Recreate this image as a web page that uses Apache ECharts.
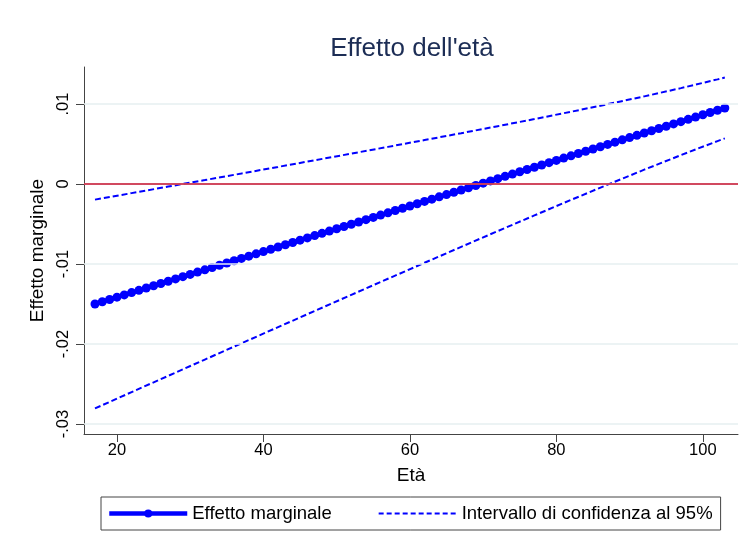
<!DOCTYPE html>
<html>
<head>
<meta charset="utf-8">
<script src="https://cdn.jsdelivr.net/npm/echarts@6/dist/echarts.min.js"></script>
<style>html,body{margin:0;padding:0;background:#fff}#c{width:747px;height:545px}</style>
</head>
<body>
<div id="c"></div>
<script>
// Ages (one point per year) and marginal effect
var ages = [17,18,19,20,21,22,23,24,25,26,27,28,29,30,31,32,33,34,35,36,37,38,39,40,41,42,43,44,45,46,47,48,49,50,51,52,53,54,55,56,57,58,59,60,61,62,63,64,65,66,67,68,69,70,71,72,73,74,75,76,77,78,79,80,81,82,83,84,85,86,87,88,89,90,91,92,93,94,95,96,97,98,99,100,101,102,103];
var marginalEffect = [-0.01500,-0.014715,-0.01443,-0.014145,-0.01386,-0.013575,-0.01329,-0.013005,-0.01272,-0.012435,-0.01215,-0.011865,-0.01158,-0.011295,-0.01101,-0.010725,-0.01044,-0.010155,-0.00987,-0.009585,-0.0093,-0.009015,-0.00873,-0.008445,-0.00816,-0.007875,-0.00759,-0.007305,-0.00702,-0.006735,-0.00645,-0.006165,-0.00588,-0.005595,-0.00531,-0.005025,-0.00474,-0.004455,-0.00417,-0.003885,-0.0036,-0.003315,-0.00303,-0.002745,-0.00246,-0.002175,-0.00189,-0.001605,-0.00132,-0.001035,-0.00075,-0.000465,-0.00018,0.000105,0.00039,0.000675,0.00096,0.001245,0.00153,0.001815,0.0021,0.002385,0.00267,0.002955,0.00324,0.003525,0.00381,0.004095,0.00438,0.004665,0.00495,0.005235,0.00552,0.005805,0.00609,0.006375,0.00666,0.006945,0.00723,0.007515,0.0078,0.008085,0.00837,0.008655,0.00894,0.009225,0.00951];
// Confidence interval (95%)
var ciAges = [17,22,27,32,37,42,47,52,57,62,67,72,77,82,87,92,97,102,103];
var ciUpper = [-0.00195,-0.001138,-0.000319,0.000494,0.001314,0.002139,0.002968,0.003803,0.004645,0.005496,0.006357,0.007232,0.008123,0.009036,0.009978,0.010958,0.011987,0.013081,0.01331];
var ciLower = [-0.02805,-0.026012,-0.023981,-0.021944,-0.019914,-0.017889,-0.015868,-0.013853,-0.011845,-0.009846,-0.007857,-0.005882,-0.003923,-0.001986,-0.000078,0.001792,0.003613,0.005369,0.00571];
// Ticks
var xTicks = [20,40,60,80,100];
var yTicks = [-0.03,-0.02,-0.01,0,0.01];
var yTickLabels = ['-.03','-.02','-.01','0','.01'];

function pairs(xs, ys){ return xs.map(function(x,i){ return [x, ys[i]]; }); }

var blue = '#0000ff';
var font = '"Liberation Sans", Arial, sans-serif';
var chart = echarts.init(document.getElementById('c'), null, {renderer:'canvas'});
chart.setOption({
  animation:false,
  backgroundColor:'#ffffff',
  title:{
    text:"Effetto dell'età",
    left:407, top:31, textAlign:'center',
    textStyle:{fontFamily:font, fontSize:26, fontWeight:'normal', color:'#1c2d55'}
  },
  grid:{left:84, right:9, top:67, bottom:111, containLabel:false},
  legend:{
    left:101, top:497,
    padding:[7,8,7,6],
    borderColor:'#444', borderWidth:1,
    itemWidth:78, itemHeight:10, itemGap:46,
    textStyle:{fontFamily:font, fontSize:18.5, color:'#000'},
    data:[
      {name:'Effetto marginale', lineStyle:{width:4.5, color:blue}, itemStyle:{color:blue}},
      {name:'Intervallo di confidenza al 95%', lineStyle:{width:1.8, color:blue, type:[5,3]}, itemStyle:{opacity:0}}
    ]
  },
  xAxis:{
    type:'value', min:15.5, max:104.8,
    name:'Età', nameLocation:'middle', nameGap:32,
    nameTextStyle:{fontFamily:font, fontSize:19, color:'#000'},
    axisLine:{show:true, onZero:false, lineStyle:{color:'#444', width:1}},
    axisTick:{show:true, length:8, customValues:xTicks, lineStyle:{color:'#444'}},
    axisLabel:{customValues:xTicks, margin:8, fontFamily:font, fontSize:16.5, color:'#000'},
    splitLine:{show:false}
  },
  yAxis:{
    type:'value', min:-0.03125, max:0.01463,
    name:'Effetto marginale', nameLocation:'middle', nameGap:35, nameRotate:90,
    nameTextStyle:{fontFamily:font, fontSize:19, color:'#000'},
    axisLine:{show:true, onZero:false, lineStyle:{color:'#444', width:1}},
    axisTick:{show:true, length:8, customValues:yTicks, lineStyle:{color:'#444'}},
    axisLabel:{customValues:yTicks, rotate:90, margin:12, fontFamily:font, fontSize:16.5, color:'#000',
      formatter:function(v){ for(var i=0;i<yTicks.length;i++){ if(Math.abs(v-yTicks[i])<1e-9) return yTickLabels[i]; } return ''; }},
    splitLine:{show:false}
  },
  series:[
    {
      name:'grid', type:'line', data:[], silent:true,
      markLine:{silent:true, symbol:'none', label:{show:false}, animation:false,
        lineStyle:{color:'#e6eff1', width:1.5, type:'solid'},
        data:yTicks.map(function(v){ return {yAxis:v}; })}
    },
    {
      name:'Intervallo di confidenza al 95%', type:'line', data:pairs(ciAges, ciUpper),
      showSymbol:false, symbol:'none', z:3,
      lineStyle:{color:blue, width:2, type:[6,3]}, itemStyle:{color:blue}
    },
    {
      name:'Intervallo di confidenza al 95%', type:'line', data:pairs(ciAges, ciLower),
      showSymbol:false, symbol:'none', z:3,
      lineStyle:{color:blue, width:2, type:[6,3]}, itemStyle:{color:blue}
    },
    {
      name:'zero', type:'line', data:[], silent:true, z:2,
      markLine:{silent:true, symbol:'none', label:{show:false}, animation:false,
        lineStyle:{color:'#c8102e', width:1.5, type:'solid'},
        data:[{yAxis:0}]}
    },
    {
      name:'Effetto marginale', type:'line', data:pairs(ages, marginalEffect),
      symbol:'circle', symbolSize:9, showAllSymbol:true, z:4,
      lineStyle:{color:blue, width:4.5}, itemStyle:{color:blue}
    }
  ]
});
</script>
</body>
</html>
